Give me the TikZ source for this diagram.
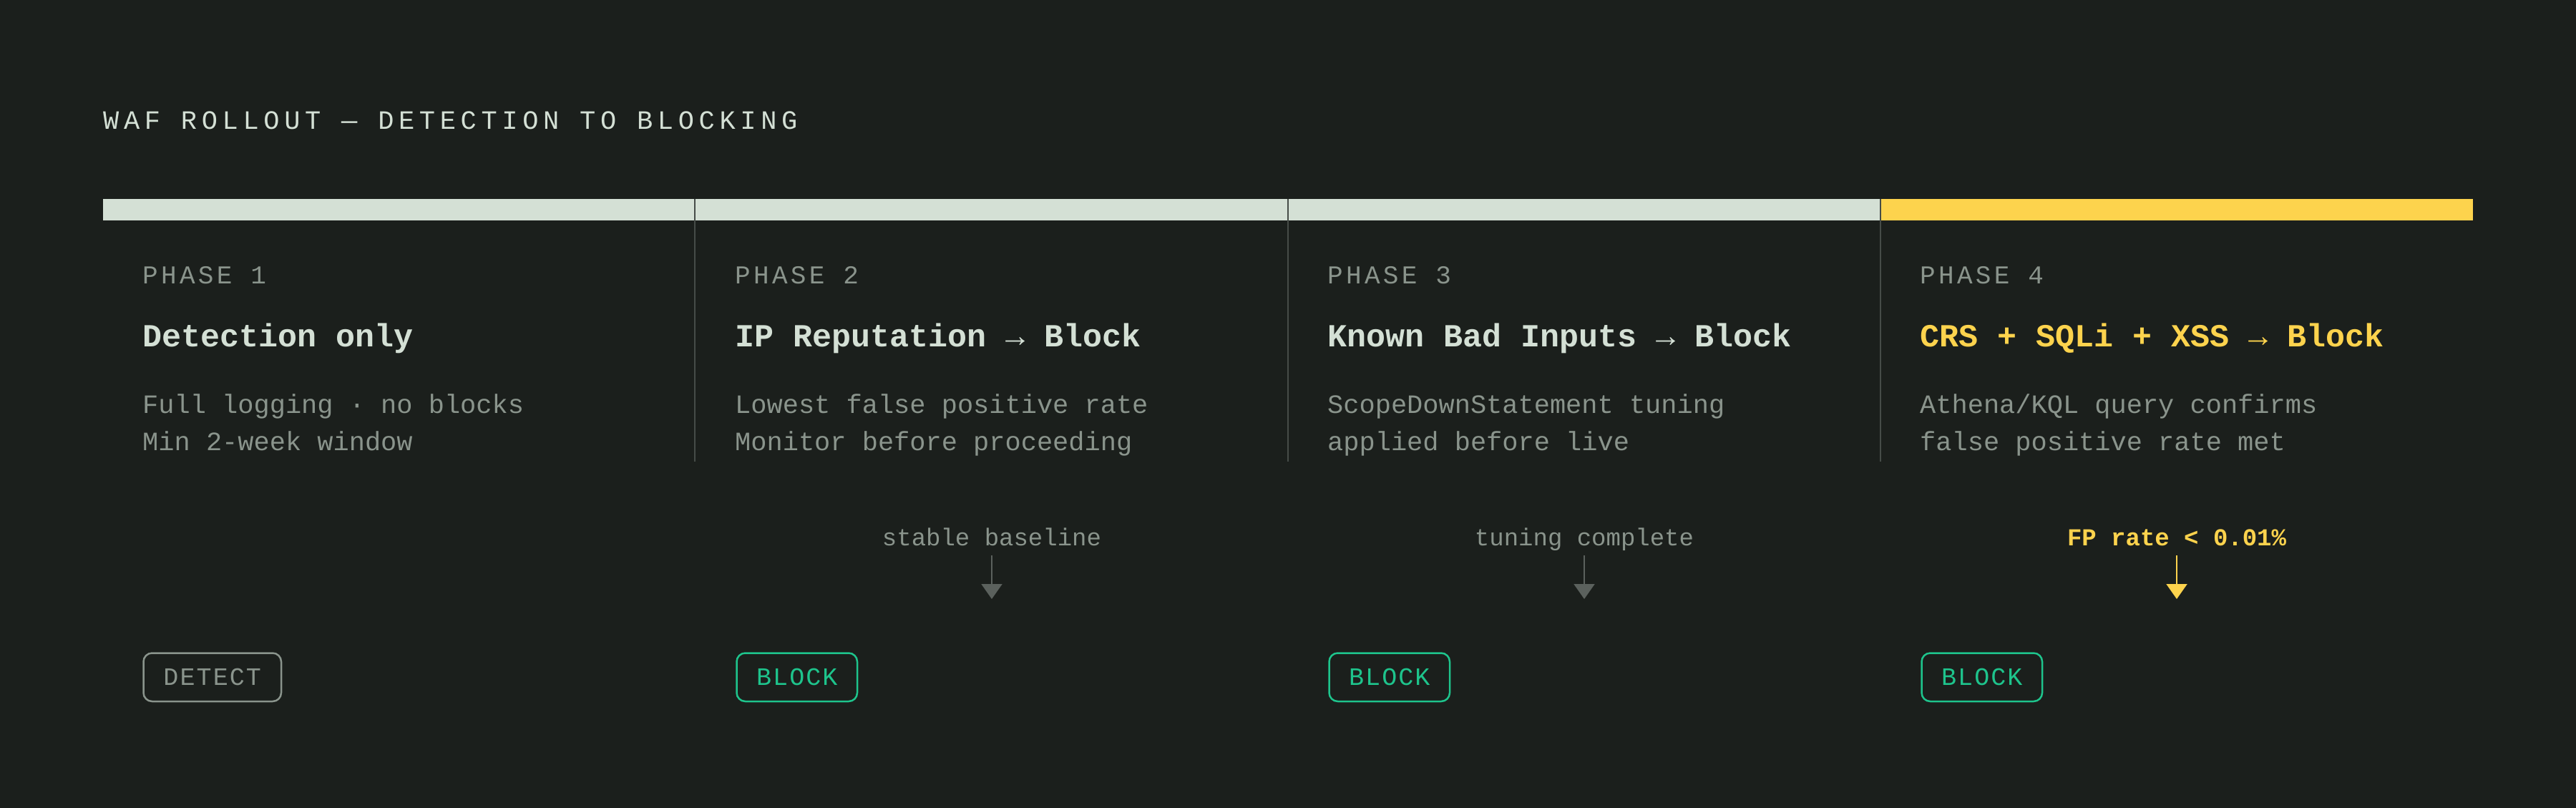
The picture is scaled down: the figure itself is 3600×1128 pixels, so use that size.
\documentclass[tikz,border=0pt]{standalone}
\usepackage{fontspec}
\setmonofont{Liberation Mono}
\newfontfamily\lmono{Liberation Mono}
\newfontfamily\lmtitle[LetterSpace=18]{Liberation Mono}
\newfontfamily\lmphase[LetterSpace=12]{Liberation Mono}
\newfontfamily\lmtag[LetterSpace=6]{Liberation Mono}
\usetikzlibrary{arrows.meta}
\definecolor{bgc}{HTML}{1B1F1C}
\definecolor{lightc}{HTML}{D4E0D5}
\definecolor{grayc}{HTML}{8A948C}
\definecolor{sepc}{HTML}{464C48}
\definecolor{arrc}{HTML}{5B615D}
\definecolor{greenc}{HTML}{1EC48C}
\definecolor{yellowc}{HTML}{FDD34D}
\begin{document}
\begin{tikzpicture}[x=1bp,y=-1bp,
  txt/.style={inner sep=0pt, anchor=base west},
  titletext/.style={txt, text=lightc, font=\lmtitle\fontsize{37bp}{44bp}\selectfont},
  phaselbl/.style={txt, text=grayc, font=\lmphase\fontsize{36bp}{43bp}\selectfont},
  headtext/.style={txt, text=lightc, font=\lmono\bfseries\fontsize{45bp}{54bp}\selectfont},
  desctext/.style={txt, text=grayc, font=\lmono\fontsize{37bp}{44bp}\selectfont},
  arrlbl/.style={inner sep=0pt, anchor=base, text=grayc, font=\lmono\fontsize{34bp}{40bp}\selectfont},
  arrlbly/.style={arrlbl, text=yellowc, font=\lmono\bfseries\fontsize{34bp}{40bp}\selectfont},
  tagbox/.style={draw, rounded corners=12bp, line width=2.5bp, anchor=north west,
    minimum height=67.5bp, inner sep=0pt, text height=23bp, text depth=0bp,
    font=\lmtag\fontsize{35bp}{40bp}\selectfont},
  detecttag/.style={tagbox, draw=grayc, text=grayc, minimum width=192.5bp},
  blocktag/.style={tagbox, draw=greenc, text=greenc, minimum width=168.5bp},
  seg/.style={fill=lightc},
  sepline/.style={draw=sepc, line width=2.5bp},
  garrow/.style={draw=arrc, line width=2bp, -{Triangle[width=29bp,length=21bp]}},
  yarrow/.style={draw=yellowc, line width=2bp, -{Triangle[width=29bp,length=21bp]}}
]
\useasboundingbox (0,0) rectangle (3600,1128);
\fill[bgc] (-20,-20) rectangle (3620,1148);

% title
\node[titletext] (title) at (144,180) {WAF ROLLOUT — DETECTION TO BLOCKING};

% progress bar
\fill[seg] (144,278) rectangle (971,308);
\fill[seg] (971,278) rectangle (1800,308);
\fill[seg] (1800,278) rectangle (2628,308);
\fill[yellowc] (2628,278) rectangle (3456,308);

% separators
\coordinate (s1t) at (971,278); \coordinate (s1b) at (971,645);
\coordinate (s2t) at (1800,278); \coordinate (s2b) at (1800,645);
\coordinate (s3t) at (2628,278); \coordinate (s3b) at (2628,645);
\draw[sepline] (s1t) -- (s1b);
\draw[sepline] (s2t) -- (s2b);
\draw[sepline] (s3t) -- (s3b);

% phase 1
\node[phaselbl] (p1) at (199,396) {PHASE 1};
\node[headtext] (h1) at (199,484) {Detection only};
\node[desctext] (d1a) at (199,577) {Full logging · no blocks};
\node[desctext] (d1b) at (199,629) {Min 2-week window};
\node[detecttag] (t1) at (199.25,911.25) {DETECT};

% phase 2
\node[phaselbl] (p2) at (1027,396) {PHASE 2};
\node[headtext] (h2) at (1027,484) {IP Reputation → Block};
\node[desctext] (d2a) at (1027,577) {Lowest false positive rate};
\node[desctext] (d2b) at (1027,629) {Monitor before proceeding};
\node[blocktag] (t2) at (1028.25,911.25) {BLOCK};

% phase 3
\node[phaselbl] (p3) at (1855,396) {PHASE 3};
\node[headtext] (h3) at (1855,484) {Known Bad Inputs → Block};
\node[desctext] (d3a) at (1855,577) {ScopeDownStatement tuning};
\node[desctext] (d3b) at (1855,629) {applied before live};
\node[blocktag] (t3) at (1856.25,911.25) {BLOCK};

% phase 4
\node[phaselbl] (p4) at (2683,396) {PHASE 4};
\node[headtext, text=yellowc] (h4) at (2683,484) {CRS + SQLi + XSS → Block};
\node[desctext] (d4a) at (2683,577) {Athena/KQL query confirms};
\node[desctext] (d4b) at (2683,629) {false positive rate met};
\node[blocktag] (t4) at (2684.25,911.25) {BLOCK};

% gate arrows
\node[arrlbl] (g2) at (1386,762) {stable baseline};
\node[arrlbl] (g3) at (2214,762) {tuning complete};
\node[arrlbly] (g4) at (3042,762) {FP rate < 0.01\%};
\coordinate (g2s) at (1386,776); \coordinate (g2e) at (1386,837);
\coordinate (g3s) at (2214,776); \coordinate (g3e) at (2214,837);
\coordinate (g4s) at (3042,776); \coordinate (g4e) at (3042,837);
\draw[garrow] (g2s) -- (g2e);
\draw[garrow] (g3s) -- (g3e);
\draw[yarrow] (g4s) -- (g4e);
\end{tikzpicture}
\end{document}
